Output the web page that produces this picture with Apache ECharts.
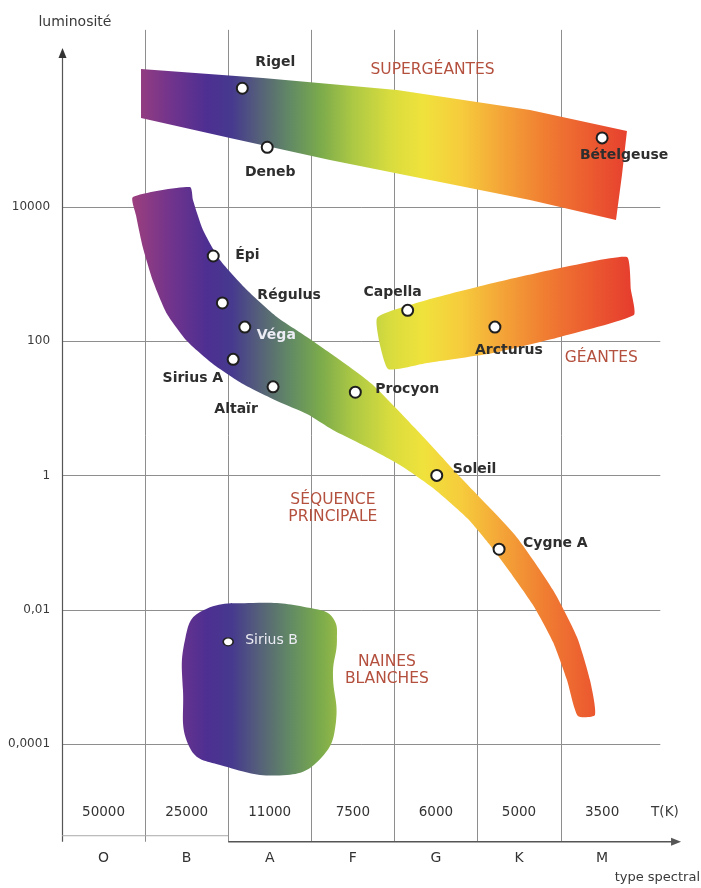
<!DOCTYPE html>
<html><head><meta charset="utf-8">
<script src="https://cdn.jsdelivr.net/npm/echarts@6/dist/echarts.min.js"></script>
<style>html,body{margin:0;padding:0;background:#fff}#c{width:701px;height:888px}</style>
</head><body><div id="c"></div>
<script>
// ---------- DATA ----------
// x = spectral position (O=0..1, B=1..2, A=2..3, F, G, K, M=6..7) ; y = log10(luminosity)
const spectralClasses = ['O', 'B', 'A', 'F', 'G', 'K', 'M'];
const spectralCenters = [0.5, 1.5, 2.5, 3.5, 4.5, 5.5, 6.5];
const temperatures = ['50000', '25000', '11000', '7500', '6000', '5000', '3500'];
const lumTickValues = [4, 2, 0, -2, -4];
const lumTickLabels = ['10000', '100', '1', '0,01', '0,0001'];
const classBoundaries = [1, 2, 3, 4, 5, 6];

const starNames = ['Rigel', 'Deneb', 'Bételgeuse', 'Épi', 'Régulus', 'Véga', 'Sirius A', 'Altaïr',
  'Procyon', 'Soleil', 'Cygne A', 'Capella', 'Arcturus', 'Sirius B'];
const starSpectral = [2.17, 2.47, 6.50, 1.82, 1.93, 2.20, 2.06, 2.54, 3.53, 4.51, 5.26, 4.16, 5.21, 2.00];
const starLogL = [5.77, 4.89, 5.03, 3.27, 2.57, 2.21, 1.73, 1.32, 1.24, 0.00, -1.10, 2.46, 2.21, -2.48];

const superGiantOutline = [[0.951, 6.057], [2.419, 5.922], [4.031, 5.744], [5.632, 5.446], [6.799, 5.133],
  [6.739, 4.477], [6.667, 3.806], [5.632, 4.104], [4.428, 4.402], [3.225, 4.700], [2.022, 5.028], [0.951, 5.327]];
const giantOutline = [[3.791, 2.346], [4.392, 2.614], [5.187, 2.867], [5.993, 3.091], [6.799, 3.255],
  [6.847, 2.763], [6.883, 2.390], [5.993, 2.063], [5.187, 1.824], [4.392, 1.675], [3.923, 1.586]];
const mainSequenceOutline = [[0.854, 4.149], [1.540, 4.298], [1.576, 4.104], [1.697, 3.657], [1.901, 3.210],
  [2.226, 2.763], [2.587, 2.361], [2.948, 2.063], [3.345, 1.720], [3.730, 1.362], [4.248, 0.706],
  [4.826, -0.069], [5.451, -0.888], [5.909, -1.708], [6.197, -2.408], [6.354, -3.049], [6.414, -3.571],
  [6.209, -3.586], [6.077, -3.049], [5.909, -2.483], [5.668, -1.932], [5.391, -1.440], [5.150, -1.037],
  [4.874, -0.635], [4.465, -0.188], [4.067, 0.155], [3.670, 0.423], [3.261, 0.677], [2.948, 0.915],
  [2.587, 1.109], [2.178, 1.362], [1.817, 1.660], [1.504, 2.003], [1.264, 2.405], [1.095, 2.897],
  [0.975, 3.389], [0.890, 3.881]];
const whiteDwarfOutline = [[1.661, -2.036], [2.298, -1.902], [3.045, -1.991], [3.261, -2.125], [3.309, -2.453],
  [3.261, -2.945], [3.297, -3.675], [3.129, -4.197], [2.708, -4.465], [1.901, -4.316], [1.540, -4.063],
  [1.456, -3.198], [1.480, -2.453]];

const regionNames = ['SUPERGÉANTES', 'GÉANTES', 'SÉQUENCE\nPRINCIPALE', 'NAINES\nBLANCHES'];
const regionLabelSpectral = [4.46, 6.49, 3.26, 3.91];
const regionLabelLogL = [6.04, 1.75, -0.50, -2.90];

// ---------- STYLE ----------
const specStopX = [0.85, 1.3, 1.75, 2.05, 2.4, 2.75, 3.1, 3.5, 3.95, 4.35, 4.8, 5.25, 5.8, 6.3, 6.85];
const specStopColor = ['#9c3f7e', '#72348c', '#4d2f92', '#463a8e', '#566378', '#628a64', '#7aaa4c', '#acc844',
  '#d8dc3e', '#f0e23c', '#f6cc3c', '#f4a838', '#f07e32', '#ec5e30', '#e63e2e'];
const starLabelStyle = [
  {dx: 33, dy: -26, align: 'center', color: '#2e2e2e'},
  {dx: 3, dy: 25, align: 'center', color: '#2e2e2e'},
  {dx: 22, dy: 17, align: 'center', color: '#2e2e2e'},
  {dx: 22, dy: -1, align: 'left', color: '#2e2e2e'},
  {dx: 35, dy: -8, align: 'left', color: '#2e2e2e'},
  {dx: 12, dy: 8, align: 'left', color: '#ececf4'},
  {dx: -10, dy: 19, align: 'right', color: '#2e2e2e'},
  {dx: -37, dy: 23, align: 'center', color: '#2e2e2e'},
  {dx: 20, dy: -3, align: 'left', color: '#2e2e2e'},
  {dx: 16, dy: -6, align: 'left', color: '#2e2e2e'},
  {dx: 24, dy: -6, align: 'left', color: '#2e2e2e'},
  {dx: -15, dy: -18, align: 'center', color: '#2e2e2e'},
  {dx: 14, dy: 23, align: 'center', color: '#2e2e2e'},
  {dx: 17, dy: -1, align: 'left', color: '#ececf4'}
];
const X_MIN = -0.746, X_MAX = 7.69, Y_MIN = -6.149, Y_MAX = 7.085;
const GRID_TOP = 6.64, GRID_BOTTOM = -5.46, GRID_RIGHT = 7.2, AXIS_Y_TIP = 6.37, AXIS_X_TIP = 7.45;
const TEMP_ROW = -5.02, CLASS_ROW = -5.70;
const FONT = "'DejaVu Sans', 'Liberation Sans', sans-serif";
const regionColor = '#b4503e';
const gridColor = '#8e8e8e';
const axisColor = '#555555';

function spectrumFill(api) {
  const first = specStopX[0], last = specStopX[specStopX.length - 1];
  const a = api.coord([first, 0])[0], b = api.coord([last, 0])[0];
  const stops = specStopX.map((x, i) => ({offset: (x - first) / (last - first), color: specStopColor[i]}));
  return new echarts.graphic.LinearGradient(a, 0, b, 0, stops, true);
}

const regionOutlines = [superGiantOutline, giantOutline, mainSequenceOutline, whiteDwarfOutline];
const regionSmooth = [0, 0.15, 0.2, 0.45];

const chart = echarts.init(document.getElementById('c'));
chart.setOption({
  animation: false,
  backgroundColor: '#ffffff',
  grid: {left: 0, right: 0, top: 0, bottom: 0},
  xAxis: {type: 'value', min: X_MIN, max: X_MAX, show: false},
  yAxis: {type: 'value', min: Y_MIN, max: Y_MAX, show: false},
  series: [
    { // horizontal grid lines
      type: 'custom', silent: true, z: 1,
      data: lumTickValues.map(v => [0, v]),
      renderItem: (p, api) => {
        const a = api.coord([0, api.value(1)]), b = api.coord([GRID_RIGHT, api.value(1)]);
        return {type: 'line', shape: {x1: a[0], y1: Math.round(a[1]) + 0.5, x2: b[0], y2: Math.round(b[1]) + 0.5},
          style: {stroke: gridColor, lineWidth: 1}};
      }
    },
    { // vertical grid lines
      type: 'custom', silent: true, z: 1,
      data: classBoundaries.map(v => [v, 0]),
      renderItem: (p, api) => {
        const a = api.coord([api.value(0), GRID_TOP]), b = api.coord([api.value(0), GRID_BOTTOM]);
        return {type: 'line', shape: {x1: Math.round(a[0]) + 0.5, y1: a[1], x2: Math.round(b[0]) + 0.5, y2: b[1]},
          style: {stroke: gridColor, lineWidth: 1}};
      }
    },
    { // axes with arrows
      type: 'custom', silent: true, z: 2,
      data: [[0, 0]],
      renderItem: (p, api) => {
        const y0 = api.coord([0, GRID_BOTTOM]), yTip = api.coord([0, AXIS_Y_TIP]);
        const xStart = api.coord([2, GRID_BOTTOM]), xTip = api.coord([AXIS_X_TIP, GRID_BOTTOM]);
        const oLeft = api.coord([0, -5.37]), oRight = api.coord([2, -5.37]);
        const yx = Math.round(yTip[0]) + 0.5;
        return {type: 'group', children: [
          {type: 'line', shape: {x1: yx, y1: y0[1], x2: yx, y2: yTip[1] + 6}, style: {stroke: axisColor, lineWidth: 1.2}},
          {type: 'polygon', shape: {points: [[yx, yTip[1]], [yx - 4, yTip[1] + 10], [yx + 4, yTip[1] + 10]]}, style: {fill: '#333'}},
          {type: 'line', shape: {x1: oLeft[0], y1: oLeft[1], x2: oRight[0], y2: oRight[1]}, style: {stroke: '#aaaaaa', lineWidth: 1}},
          {type: 'line', shape: {x1: xStart[0], y1: xStart[1], x2: xTip[0] - 6, y2: xTip[1]}, style: {stroke: axisColor, lineWidth: 1.6}},
          {type: 'polygon', shape: {points: [[xTip[0], xTip[1]], [xTip[0] - 10, xTip[1] - 4], [xTip[0] - 10, xTip[1] + 4]]}, style: {fill: '#555'}}
        ]};
      }
    },
    { // star regions
      type: 'custom', silent: true, z: 3,
      data: regionOutlines.map((o, i) => [i, 0]),
      renderItem: (p, api) => {
        const o = regionOutlines[p.dataIndex];
        return {type: 'polygon', shape: {points: o.map(pt => api.coord(pt)), smooth: regionSmooth[p.dataIndex]},
          style: {fill: spectrumFill(api)}};
      }
    },
    { // stars
      type: 'scatter', z: 5, silent: true,
      symbol: 'circle', symbolSize: 11,
      itemStyle: {color: '#ffffff', borderColor: '#1e1e1e', borderWidth: 2, opacity: 1},
      label: {show: true, position: 'inside', formatter: '{b}', fontFamily: FONT, fontWeight: 'bold', fontSize: 14},
      data: starNames.map((n, i) => ({
        name: n, value: [starSpectral[i], starLogL[i]],
        symbolSize: n === 'Sirius B' ? [10, 8] : 11,
        itemStyle: n === 'Sirius B' ? {borderWidth: 1.5, borderColor: '#222'} : undefined,
        label: {offset: [starLabelStyle[i].dx, starLabelStyle[i].dy], align: starLabelStyle[i].align,
          color: starLabelStyle[i].color, fontWeight: n === 'Sirius B' ? 'normal' : 'bold'}
      }))
    },
    { // region names
      type: 'custom', silent: true, z: 6,
      data: regionNames.map((n, i) => [regionLabelSpectral[i], regionLabelLogL[i]]),
      renderItem: (p, api) => {
        const c = api.coord([api.value(0), api.value(1)]);
        return {type: 'text', x: c[0], y: c[1], style: {text: regionNames[p.dataIndex], fill: regionColor,
          fontFamily: FONT, fontSize: 15.5, align: 'center', verticalAlign: 'middle', lineHeight: 17}};
      }
    },
    { // luminosity tick labels
      type: 'custom', silent: true, z: 6,
      data: lumTickValues.map(v => [-0.144, v]),
      renderItem: (p, api) => {
        const c = api.coord([api.value(0), api.value(1)]);
        return {type: 'text', x: c[0], y: c[1], style: {text: lumTickLabels[p.dataIndex], fill: '#3a3a3a',
          fontFamily: FONT, fontSize: 12, align: 'right', verticalAlign: 'middle'}};
      }
    },
    { // temperatures
      type: 'custom', silent: true, z: 6,
      data: spectralCenters.map(v => [v, TEMP_ROW]),
      renderItem: (p, api) => {
        const c = api.coord([api.value(0), api.value(1)]);
        return {type: 'text', x: c[0], y: c[1], style: {text: temperatures[p.dataIndex], fill: '#333',
          fontFamily: FONT, fontSize: 13.5, align: 'center', verticalAlign: 'middle'}};
      }
    },
    { // spectral classes
      type: 'custom', silent: true, z: 6,
      data: spectralCenters.map(v => [v, CLASS_ROW]),
      renderItem: (p, api) => {
        const c = api.coord([api.value(0), api.value(1)]);
        return {type: 'text', x: c[0], y: c[1], style: {text: spectralClasses[p.dataIndex], fill: '#333',
          fontFamily: FONT, fontSize: 14, align: 'center', verticalAlign: 'middle'}};
      }
    },
    { // axis titles
      type: 'custom', silent: true, z: 6,
      data: [[0.156, 6.757], [7.256, TEMP_ROW], [7.678, -6.0]],
      renderItem: (p, api) => {
        const c = api.coord([api.value(0), api.value(1)]);
        const txt = ['luminosité', 'T(K)', 'type spectral'][p.dataIndex];
        const al = ['center', 'center', 'right'][p.dataIndex];
        const fs = [14, 13.5, 13][p.dataIndex];
        return {type: 'text', x: c[0], y: c[1], style: {text: txt, fill: '#3a3a3a',
          fontFamily: FONT, fontSize: fs, align: al, verticalAlign: 'middle'}};
      }
    }
  ]
});
</script>
</body></html>
